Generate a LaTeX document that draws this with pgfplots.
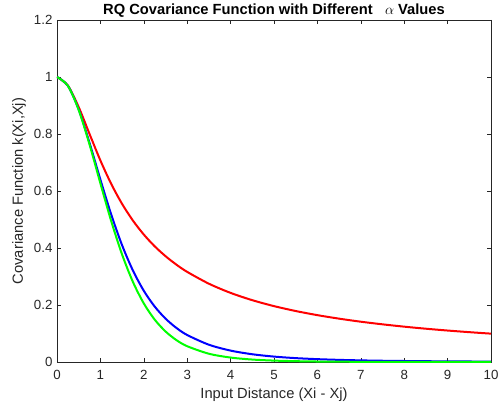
\documentclass[border=0pt]{standalone}
\usepackage{pgfplots}
\pgfplotsset{compat=1.18}
\usepackage{fontspec}
\setmainfont{Liberation Sans}
\definecolor{axgray}{gray}{0.15}

\begin{document}
\begin{tikzpicture}
\begin{axis}[
  name=ax,
  scale only axis,
  width=434pt, height=342pt,
  xmin=0, xmax=10, ymin=0, ymax=1.2,
  xtick={0,1,2,3,4,5,6,7,8,9,10},
  ytick={0,0.2,0.4,0.6,0.8,1,1.2},
  tick align=inside,
  major tick length=4.5pt,
  axis line style={axgray, line width=0.6pt},
  every tick/.style={axgray, line width=0.6pt},
  /pgf/number format/assume math mode=true,
  tick label style={font=\fontsize{13.3}{16}\selectfont, text=axgray},
  xticklabel style={yshift=-5pt},
  yticklabel style={xshift=-1pt},
  xlabel={Input Distance (Xi - Xj)},
  ylabel={Covariance Function k(Xi,Xj)},
  label style={font=\fontsize{14.7}{17}\selectfont, text=axgray},
  xlabel style={at={(axis description cs:0.5,0)}, anchor=base, yshift=-36pt},
  ylabel style={at={(axis description cs:0,0.5)}, anchor=base, rotate=0, yshift=34pt},
  every axis title shift=0pt,
  title={RQ Covariance Function with Different\ \ \ $\alpha$ Values},
  title style={font=\fontsize{14.7}{17}\selectfont\bfseries, at={(axis description cs:0.5,1)}, anchor=base, yshift=5.5pt},
  every axis plot/.append style={line width=2pt, smooth},
]
% alpha = 0.5
\addplot[color=red] coordinates {
(0,1) (0.25,0.9701) (0.5,0.8944) (0.75,0.8) (1,0.7071) (1.25,0.6247) (1.5,0.5547)
(1.75,0.4961) (2,0.4472) (2.25,0.4061) (2.5,0.3714) (2.75,0.3417) (3,0.3162)
(3.5,0.2747) (4,0.2425) (4.5,0.2169) (5,0.1961) (5.5,0.1789) (6,0.1644)
(6.5,0.1521) (7,0.1414) (7.5,0.1322) (8,0.1240) (8.5,0.1168) (9,0.1104)
(9.5,0.1047) (10,0.0995)
};
% alpha = 2
\addplot[color=blue] coordinates {
(0,1) (0.25,0.9695) (0.5,0.8858) (0.75,0.7686) (1,0.64) (1.25,0.5171) (1.5,0.4096)
(1.75,0.3208) (2,0.25) (2.25,0.1948) (2.5,0.1523) (2.75,0.1197) (3,0.0947)
(3.5,0.0606) (4,0.04) (4.5,0.0272) (5,0.0190) (5.5,0.0136) (6,0.01)
(6.5,0.0075) (7,0.0057) (7.5,0.0044) (8,0.0035) (8.5,0.0028) (9,0.0022)
(9.5,0.0018) (10,0.0015)
};
% larger alpha
\addplot[color=green] coordinates {
(0,1) (0.25,0.9694) (0.5,0.8844) (0.75,0.7630) (1,0.6267) (1.25,0.4940) (1.5,0.3770)
(1.75,0.2808) (2,0.2056) (2.25,0.1489) (2.5,0.1073) (2.75,0.0770) (3,0.0554)
(3.5,0.0290) (4,0.0156) (4.5,0.0086) (5,0.0049) (5.5,0.0029) (6,0.0017)
(6.5,0.0011) (7,0.0007) (7.5,0.0005) (8,0.0003) (8.5,0.0002) (9,0.0001)
(9.5,0.0001) (10,0.0001)
};
\end{axis}
\pgfresetboundingbox
\path[use as bounding box] ([shift={(-57pt,-48pt)}]ax.south west) rectangle ([shift={(12pt,20pt)}]ax.north east);
\end{tikzpicture}
\end{document}
